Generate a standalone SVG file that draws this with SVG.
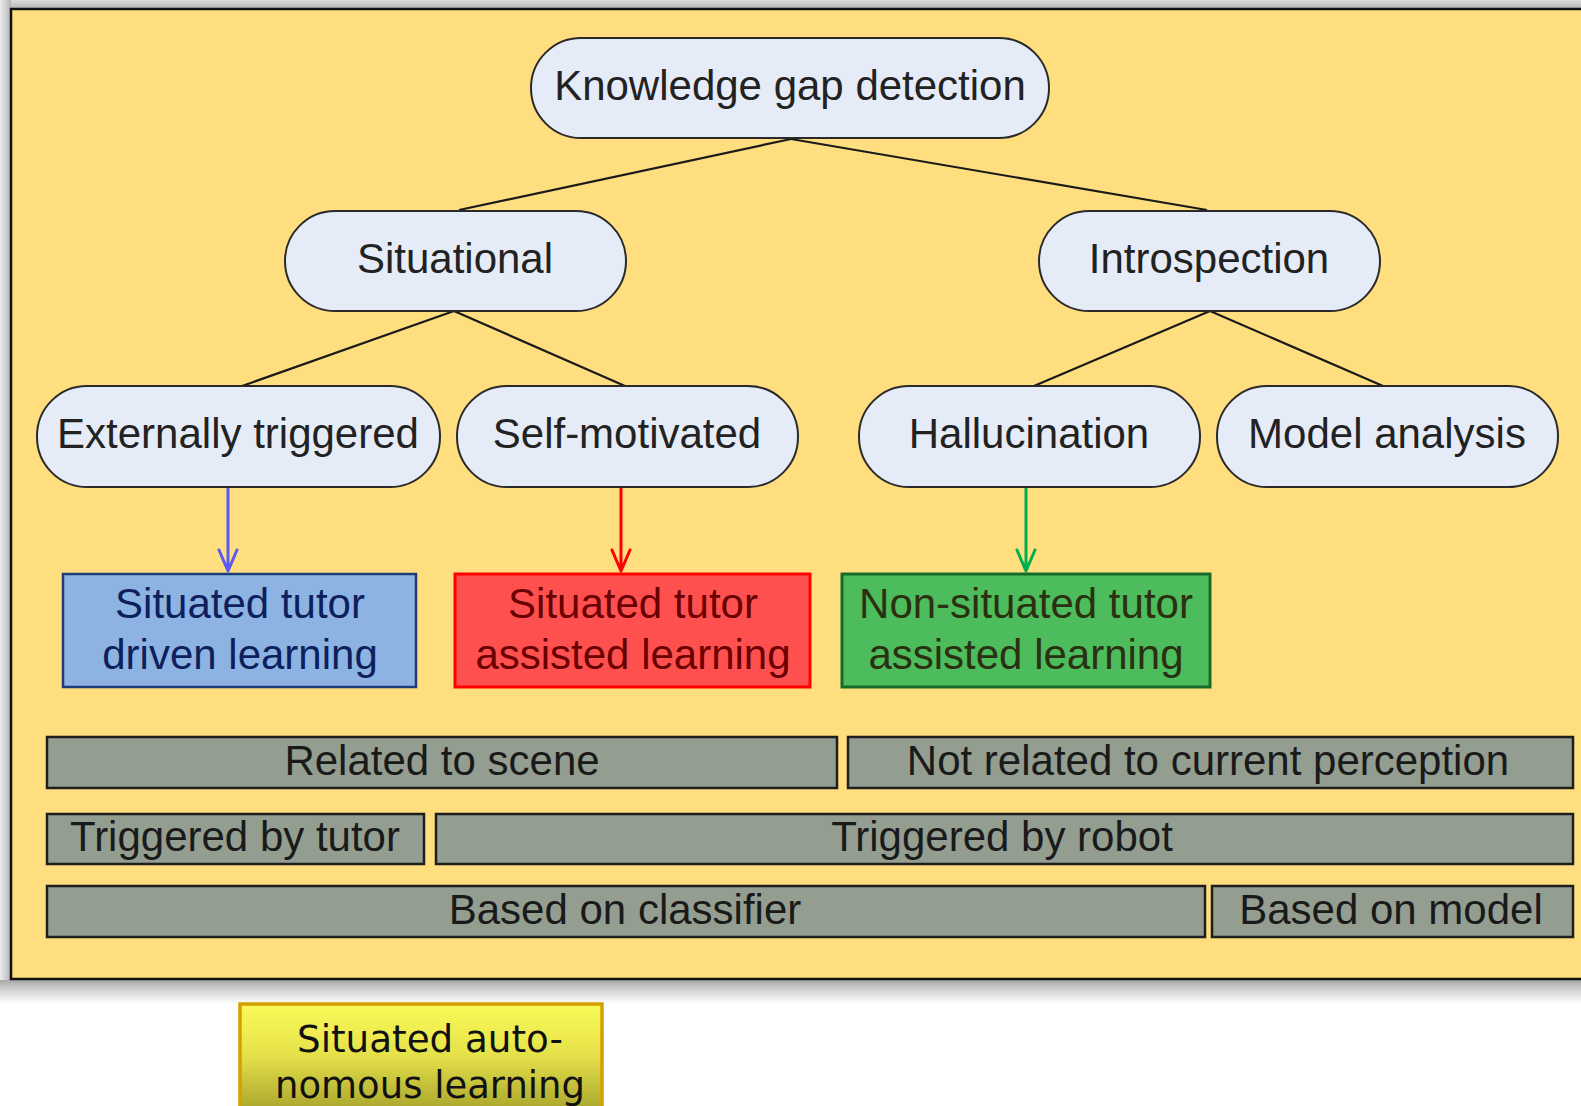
<svg xmlns="http://www.w3.org/2000/svg" width="1581" height="1106" viewBox="0 0 1581 1106">
  <defs>
    <linearGradient id="shadowLeft" x1="0" y1="0" x2="1" y2="0">
      <stop offset="0" stop-color="#ececec"/>
      <stop offset="1" stop-color="#b4b4b4"/>
    </linearGradient>
    <linearGradient id="shadowTop" x1="0" y1="0" x2="0" y2="1">
      <stop offset="0" stop-color="#dcdcdc"/>
      <stop offset="1" stop-color="#b4b4b4"/>
    </linearGradient>
    <linearGradient id="shadowBottom" x1="0" y1="0" x2="0" y2="1">
      <stop offset="0" stop-color="#a8a8a8"/>
      <stop offset="0.5" stop-color="#dadada"/>
      <stop offset="1" stop-color="#ffffff"/>
    </linearGradient>
    <linearGradient id="yellowGrad" x1="0" y1="0" x2="0" y2="1">
      <stop offset="0" stop-color="#fafa5a"/>
      <stop offset="0.45" stop-color="#e6e24a"/>
      <stop offset="1" stop-color="#a6a22c"/>
    </linearGradient>
    <style>
      .node rect.pill { fill: #e6ecf7; stroke: #2a2a2a; stroke-width: 2; }
      .lbl { font-family: "Liberation Sans", Arial, sans-serif; font-size: 42px; text-anchor: middle; }
      .node text { fill: #222222; }
      .bar rect { fill: #939e90; stroke: #1e1e1e; stroke-width: 2.5; }
      .bar text { fill: #1a1a1a; }
      .edge { stroke: #1a1a1a; stroke-width: 2.2; fill: none; }
      .arrow { fill: none; stroke-width: 3; stroke-linecap: round; stroke-linejoin: round; }
      .blue { stroke: #5a5af8; }
      .red { stroke: #ff0000; }
      .green { stroke: #00b050; }
    </style>
  </defs>

  <!-- page & frame shadow -->
  <rect x="0" y="0" width="1581" height="1106" fill="#ffffff"/>
  <rect x="0" y="0" width="1581" height="9" fill="url(#shadowTop)"/>
  <rect x="0" y="0" width="11" height="985" fill="url(#shadowLeft)"/>
  <rect x="0" y="980" width="1581" height="24" fill="url(#shadowBottom)"/>

  <!-- panel -->
  <rect id="panel" x="11" y="9" width="1580" height="970" fill="#fede7e" stroke="#111111" stroke-width="2.5"/>

  <!-- connectors -->
  <g id="connectors">
    <line class="edge" x1="791" y1="139" x2="459" y2="210"/>
    <line class="edge" x1="791" y1="139" x2="1207" y2="210"/>
    <line class="edge" x1="454" y1="311" x2="242" y2="386"/>
    <line class="edge" x1="454" y1="311" x2="625" y2="386"/>
    <line class="edge" x1="1210" y1="311" x2="1034" y2="386"/>
    <line class="edge" x1="1210" y1="311" x2="1383" y2="386"/>
    <path class="arrow blue" d="M228,488 L228,571 M219,550 L228,571 L237,550"/>
    <path class="arrow red" d="M621,488 L621,571 M612,550 L621,571 L630,550"/>
    <path class="arrow green" d="M1026,488 L1026,571 M1017,550 L1026,571 L1035,550"/>
  </g>

  <!-- tree nodes -->
  <g id="node-knowledge" class="node">
    <rect class="pill" x="531" y="38" width="518" height="100" rx="50" ry="50"/>
    <text class="lbl" x="790" y="100">Knowledge gap detection</text>
  </g>
  <g id="node-situational" class="node">
    <rect class="pill" x="285" y="211" width="341" height="100" rx="50" ry="50"/>
    <text class="lbl" x="455" y="273">Situational</text>
  </g>
  <g id="node-introspection" class="node">
    <rect class="pill" x="1039" y="211" width="341" height="100" rx="50" ry="50"/>
    <text class="lbl" x="1209" y="273">Introspection</text>
  </g>
  <g id="node-externally" class="node">
    <rect class="pill" x="37" y="386" width="403" height="101" rx="50" ry="50"/>
    <text class="lbl" x="238" y="448">Externally triggered</text>
  </g>
  <g id="node-selfmotivated" class="node">
    <rect class="pill" x="457" y="386" width="341" height="101" rx="50" ry="50"/>
    <text class="lbl" x="627" y="448">Self-motivated</text>
  </g>
  <g id="node-hallucination" class="node">
    <rect class="pill" x="859" y="386" width="341" height="101" rx="50" ry="50"/>
    <text class="lbl" x="1029" y="448">Hallucination</text>
  </g>
  <g id="node-model" class="node">
    <rect class="pill" x="1217" y="386" width="341" height="101" rx="50" ry="50"/>
    <text class="lbl" x="1387" y="448">Model analysis</text>
  </g>

  <!-- learning type boxes -->
  <g id="node-situated-driven">
    <rect x="63" y="574" width="353" height="113" fill="#8db3e2" stroke="#1d3c78" stroke-width="2.5"/>
    <text class="lbl" x="240" y="618" fill="#0d1f5c">Situated tutor</text>
    <text class="lbl" x="240" y="669" fill="#0d1f5c">driven learning</text>
  </g>
  <g id="node-situated-assisted">
    <rect x="455" y="574" width="355" height="113" fill="#ff5050" stroke="#ff0000" stroke-width="3"/>
    <text class="lbl" x="633" y="618" fill="#6a0000">Situated tutor</text>
    <text class="lbl" x="633" y="669" fill="#6a0000">assisted learning</text>
  </g>
  <g id="node-nonsituated-assisted">
    <rect x="842" y="574" width="368" height="113" fill="#4cbc5c" stroke="#156c2a" stroke-width="3"/>
    <text class="lbl" x="1026" y="618" fill="#2a3010">Non-situated tutor</text>
    <text class="lbl" x="1026" y="669" fill="#2a3010">assisted learning</text>
  </g>

  <!-- category bars -->
  <g id="bar-related" class="bar">
    <rect x="47" y="737" width="790" height="51"/>
    <text class="lbl" x="442" y="775">Related to scene</text>
  </g>
  <g id="bar-notrelated" class="bar">
    <rect x="848" y="737" width="725" height="51"/>
    <text class="lbl" x="1208" y="775">Not related to current perception</text>
  </g>
  <g id="bar-tutor" class="bar">
    <rect x="47" y="814" width="377" height="50"/>
    <text class="lbl" x="235" y="851">Triggered by tutor</text>
  </g>
  <g id="bar-robot" class="bar">
    <rect x="436" y="814" width="1137" height="50"/>
    <text class="lbl" x="1002" y="851">Triggered by robot</text>
  </g>
  <g id="bar-classifier" class="bar">
    <rect x="47" y="886" width="1158" height="51"/>
    <text class="lbl" x="625" y="924">Based on classifier</text>
  </g>
  <g id="bar-model" class="bar">
    <rect x="1212" y="886" width="361" height="51"/>
    <text class="lbl" x="1391" y="924">Based on model</text>
  </g>

  <!-- situated autonomous learning -->
  <g id="node-autonomous">
    <rect x="240" y="1004" width="362" height="110" fill="url(#yellowGrad)" stroke="#d4a000" stroke-width="3.5"/>
    <text x="430" y="1052" font-family="'DejaVu Sans', Verdana, sans-serif" font-size="37" text-anchor="middle" fill="#111111" textLength="266" lengthAdjust="spacingAndGlyphs">Situated auto-</text>
    <text x="430" y="1098" font-family="'DejaVu Sans', Verdana, sans-serif" font-size="37" text-anchor="middle" fill="#111111" textLength="310" lengthAdjust="spacingAndGlyphs">nomous learning</text>
  </g>
</svg>
